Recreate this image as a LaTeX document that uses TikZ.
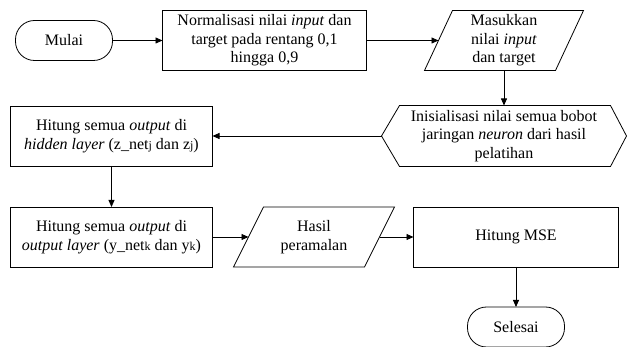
\documentclass[tikz,border=0pt]{standalone}
\usepackage{fontspec}
\setmainfont{Liberation Serif}
\usepackage{tikz}
\usetikzlibrary{positioning,arrows.meta}

\newcommand{\idx}[1]{{\fontsize{12}{12}\selectfont #1}}

\begin{document}
\begin{tikzpicture}[x=1pt, y=-1pt]
   \tikzset{
     base/.style     = { font         = \fontsize{16}{18.4}\selectfont,
                         align        = center,
                         inner sep    = 0pt,
                         outer sep    = 0pt,
                         line width   = 0.8pt },
     terminal/.style = { base, draw,
                         rounded corners = 19pt,
                         minimum width   = 97pt,
                         minimum height  = 40pt },
     process/.style  = { base, draw,
                         minimum height = 60pt },
     io/.style       = { base,
                         minimum width  = 131pt,
                         minimum height = 60pt },
     prep/.style     = { base,
                         minimum width  = 245pt,
                         minimum height = 61pt },
     outline/.style  = { line width = 0.8pt, line join = miter },
     flow/.style     = { line width = 0.8pt,
                         -{Triangle[length=7pt, width=6pt]} },
  }

  \useasboundingbox (0,0) rectangle (633,347);

  % first row
  \node [terminal] (mulai) at (64,40.5) {Mulai};

  \node [process, minimum width = 204pt, right = 50pt of mulai] (norm)
    {Normalisasi nilai \textit{input} dan\\
     target pada rentang 0,1\\
     hingga 0,9};

  \node [io, right = 72pt of norm] (input)
    {Masukkan\\nilai \textit{input}\\dan target};

  % second row
  \node [prep, below = 35pt of input] (init)
    {Inisialisasi nilai semua bobot\\
     jaringan \textit{neuron} dari hasil\\
     pelatihan};

  \node [process, minimum width = 202pt, left = 169pt of init] (hidden)
    {Hitung semua \textit{output} di\\
     \textit{hidden layer} (z\_net\idx{j} dan z\idx{j})};

  % third row
  \node [process, minimum width = 202pt, below = 41pt of hidden] (output)
    {Hitung semua \textit{output} di\\
     \textit{output layer} (y\_net\idx{k} dan y\idx{k})};

  \node [io, right = 36pt of output] (hasil) {Hasil\\peramalan};

  \node [process, minimum width = 205pt, right = 34pt of hasil] (mse)
    {Hitung MSE};

  \node [terminal, below = 40pt of mse] (selesai) {Selesai};

  % outlines of the slanted shapes
  \draw [outline] ([xshift=-14pt]input.south west) -- ([xshift=14pt]input.north west)
    -- ([xshift=14pt]input.north east) -- ([xshift=-14pt]input.south east) -- cycle;
  \draw [outline] ([xshift=-15pt]hasil.south west) -- ([xshift=15pt]hasil.north west)
    -- ([xshift=15pt]hasil.north east) -- ([xshift=-15pt]hasil.south east) -- cycle;
  \draw [outline] (init.west) -- ([xshift=18pt]init.north west)
    -- ([xshift=-16pt]init.north east) -- (init.east)
    -- ([xshift=-16pt]init.south east) -- ([xshift=18pt]init.south west) -- cycle;

  % connectors
  \draw [flow] (mulai)  -- (norm);
  \draw [flow] (norm)   -- (input);
  \draw [flow] (input)  -- (init);
  \draw [flow] (init)   -- (hidden);
  \draw [flow] (hidden) -- (output);
  \draw [flow] (output) -- (hasil);
  \draw [flow] (hasil)  -- (mse);
  \draw [flow] (mse)    -- (selesai);

\end{tikzpicture}
\end{document}
